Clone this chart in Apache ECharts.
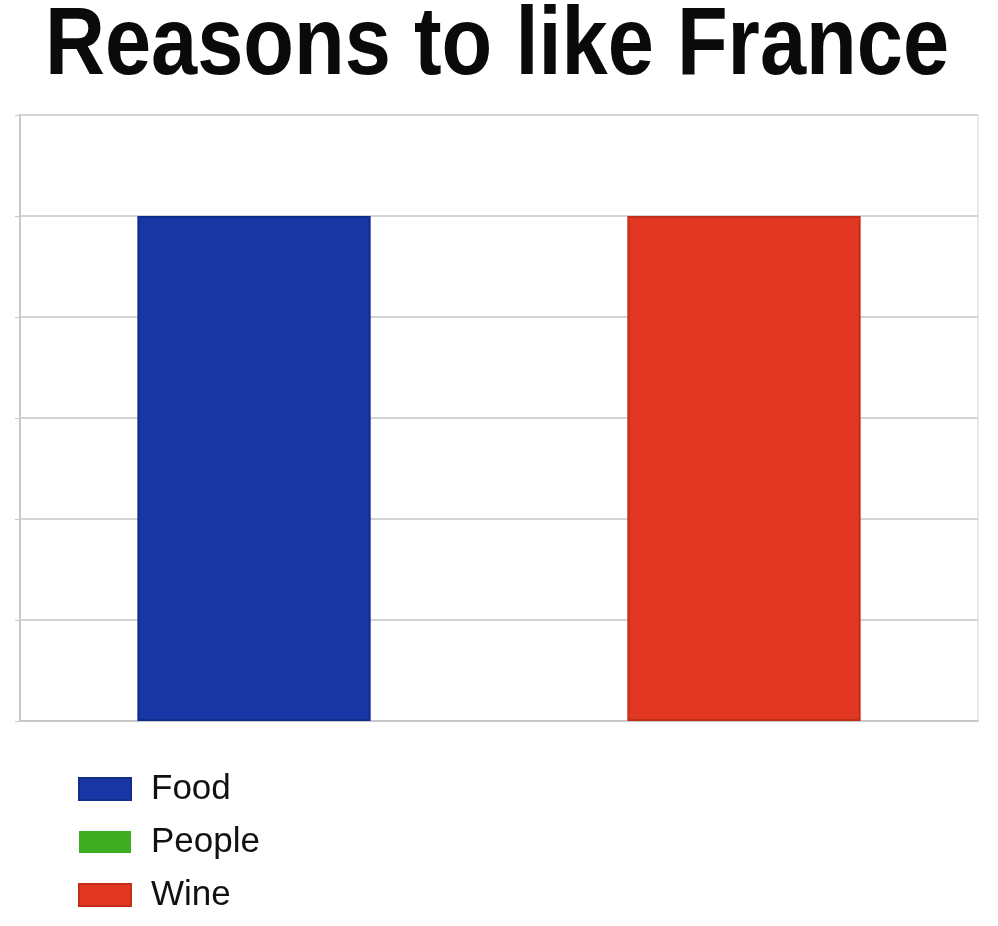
<!DOCTYPE html>
<html>
<head>
<meta charset="utf-8">
<script src="https://cdn.jsdelivr.net/npm/echarts@6/dist/echarts.min.js"></script>
<style>
html,body{margin:0;padding:0;background:#fff;}
#main{width:998px;height:926px;}
</style>
</head>
<body>
<div id="main"></div>
<script>
var titleText = 'Reasons to like France';
var categories = [''];
var seriesNames = ['Food', 'People', 'Wine'];
var foodValues = [5];
var peopleValues = [0];
var wineValues = [5];
var yMin = 0, yMax = 6, yInterval = 1;

var chart = echarts.init(document.getElementById('main'));
chart.setOption({
  backgroundColor: '#ffffff',
  animation: false,
  graphic: [{
    type: 'text',
    x: 497,
    y: 96,
    scaleY: 1.16,
    style: {
      text: titleText,
      fontFamily: 'Liberation Sans, Arial, sans-serif',
      fontWeight: 'bold',
      fontSize: 83,
      fill: '#0a0a0a',
      align: 'center',
      verticalAlign: 'bottom'
    }
  }],
  legend: {
    orient: 'vertical',
    left: 73,
    top: 766,
    itemWidth: 52,
    itemHeight: 22,
    itemGap: 17,
    icon: 'rect',
    data: seriesNames,
    textStyle: {
      fontFamily: 'Liberation Sans, Arial, sans-serif',
      fontSize: 35,
      lineHeight: 36,
      color: '#111',
      padding: [0, 0, 0, 15]
    }
  },
  grid: {
    left: 20, right: 20, top: 115, bottom: 205,
    show: true,
    borderColor: '#d4d4d4',
    borderWidth: 1,
    containLabel: false
  },
  xAxis: {
    type: 'category',
    data: categories,
    axisLine: { show: true, lineStyle: { color: '#c8c8c8', width: 2 } },
    axisTick: { show: false },
    axisLabel: { show: false }
  },
  yAxis: {
    type: 'value',
    min: yMin, max: yMax, interval: yInterval,
    axisLine: { show: true, lineStyle: { color: '#c8c8c8', width: 2 } },
    axisTick: { show: true, length: 5, lineStyle: { color: '#c8c8c8' } },
    axisLabel: { show: false },
    splitLine: { show: true, lineStyle: { color: '#d4d4d4', width: 2 } }
  },
  series: [
    { name: seriesNames[0], type: 'bar', data: foodValues, barGap: '5%', barCategoryGap: '24.5%',
      itemStyle: { color: '#1836a4', borderColor: '#122c8e', borderWidth: 2 } },
    { name: seriesNames[1], type: 'bar', data: peopleValues,
      itemStyle: { color: '#3fae22', borderColor: '#36a01c', borderWidth: 0 } },
    { name: seriesNames[2], type: 'bar', data: wineValues,
      itemStyle: { color: '#e23822', borderColor: '#c42c1c', borderWidth: 2 } }
  ]
});
</script>
</body>
</html>
